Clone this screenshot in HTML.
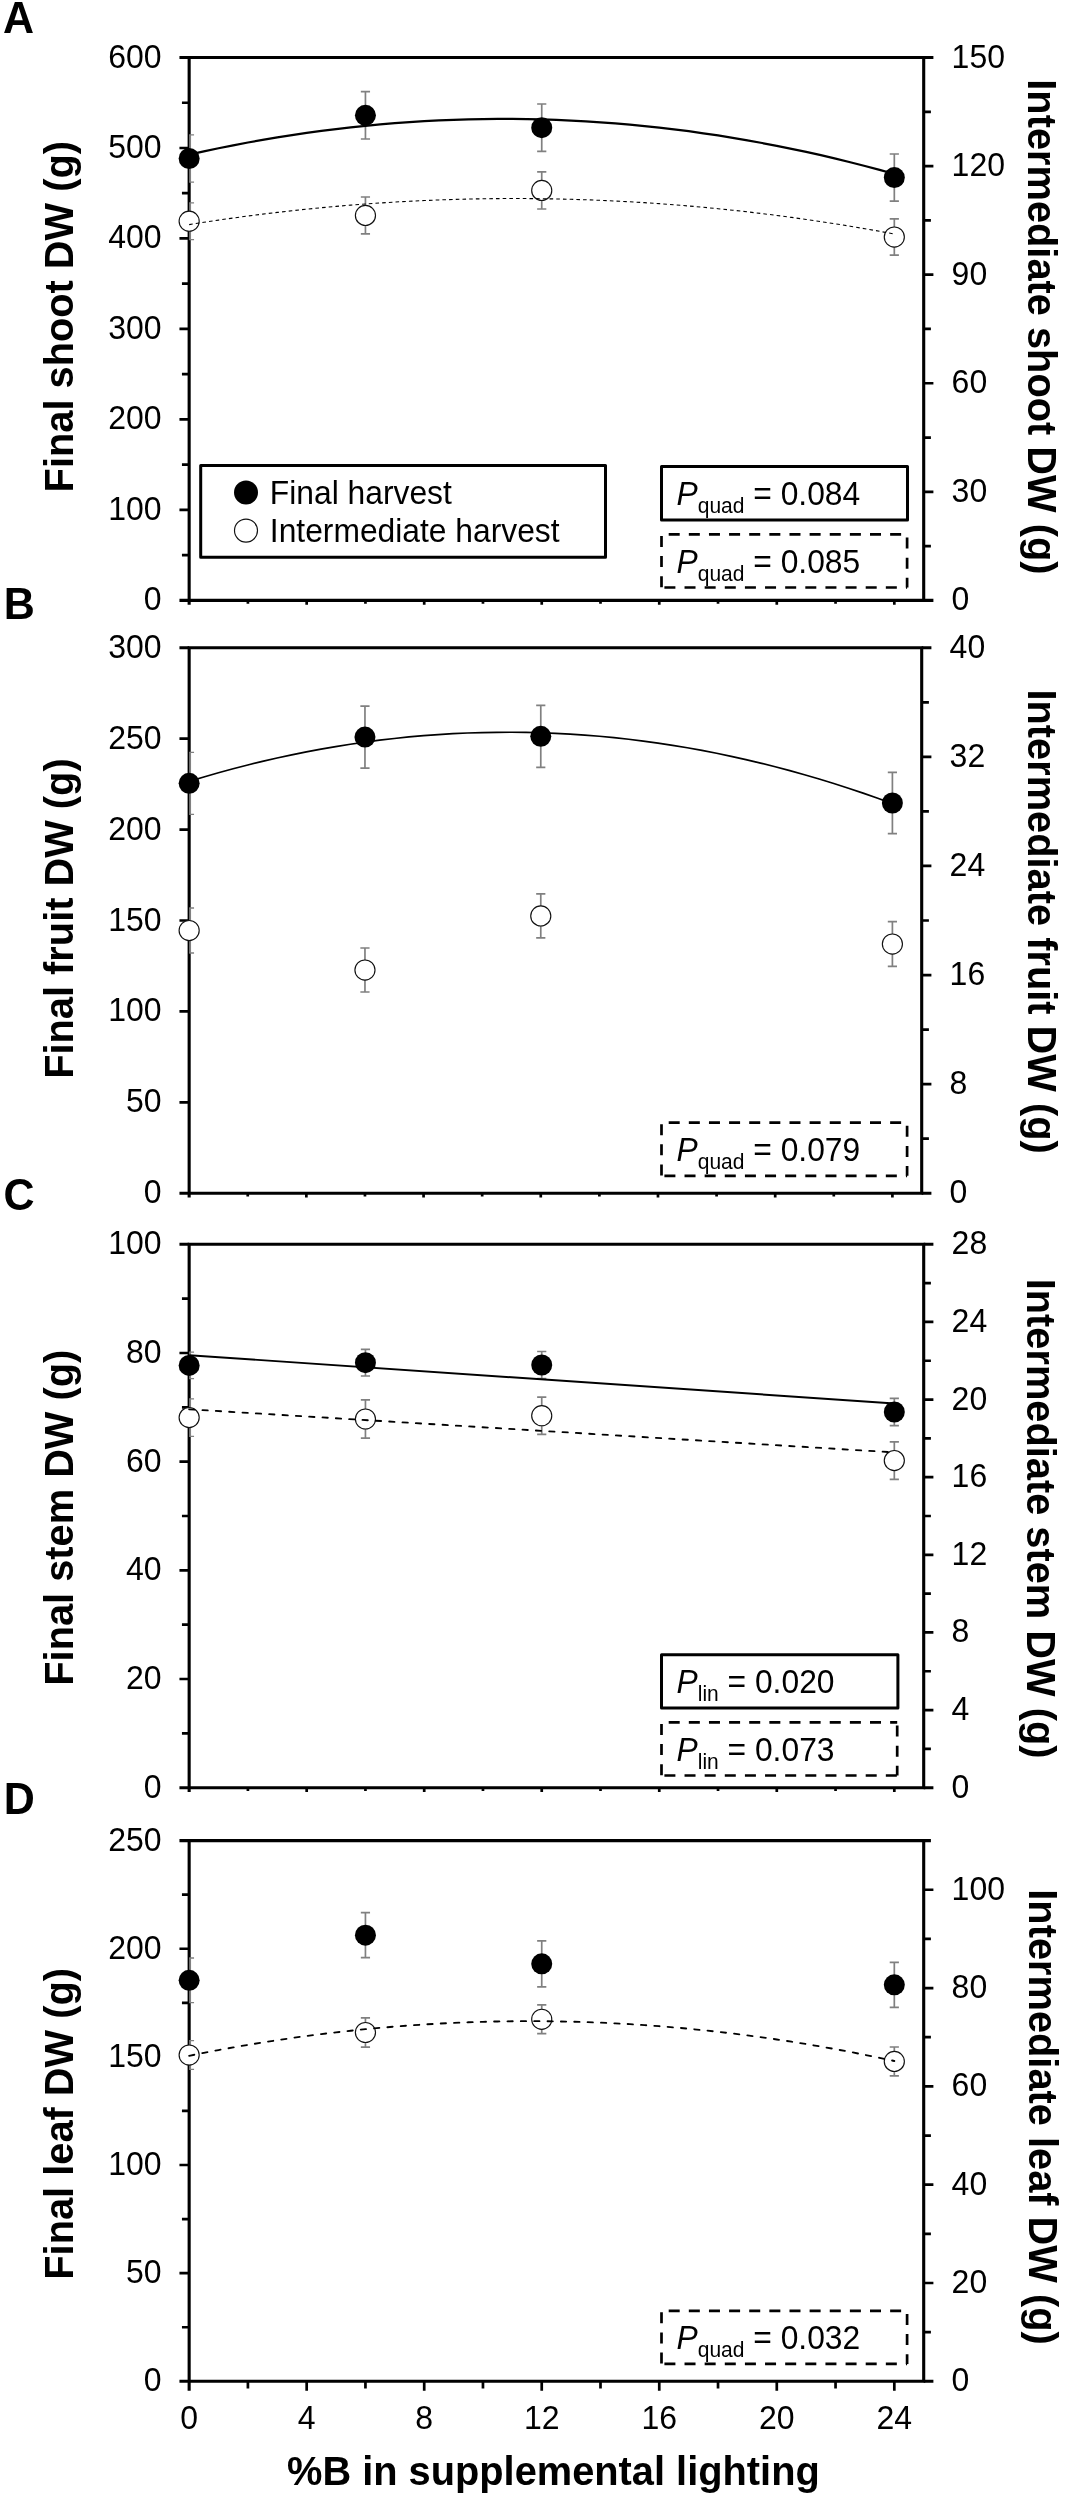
<!DOCTYPE html>
<html lang="en"><head><meta charset="utf-8"><title>Figure</title>
<style>html,body{margin:0;padding:0;background:#fff}svg{display:block}text{font-family:"Liberation Sans",sans-serif;fill:#000}.t{font-size:32.0px}.b{font-size:39.8px;font-weight:bold}.p{font-size:43.0px;font-weight:bold}.s{font-size:21px}.i{font-style:italic}</style></head><body>
<svg width="1065" height="2500" viewBox="0 0 1065 2500" style="will-change:transform;filter:grayscale(1)">
<rect width="1065" height="2500" fill="#fff"/>
<g>
<path d="M189.15,57.5 H923.7 M189.15,600.4 H923.7 M189.15,55.95 V604.8 M923.7,55.95 V601.95" stroke="#000" stroke-width="3.1" fill="none"/>
<path d="M181.95,555.16 H189.15 M179.45,509.92 H189.15 M181.95,464.67 H189.15 M179.45,419.43 H189.15 M181.95,374.19 H189.15 M179.45,328.95 H189.15 M181.95,283.71 H189.15 M179.45,238.47 H189.15 M181.95,193.22 H189.15 M179.45,147.98 H189.15 M181.95,102.74 H189.15 M923.7,546.11 H930.9 M923.7,491.82 H933.4 M923.7,437.53 H930.9 M923.7,383.24 H933.4 M923.7,328.95 H930.9 M923.7,274.66 H933.4 M923.7,220.37 H930.9 M923.7,166.08 H933.4 M923.7,111.79 H930.9 M247.91,600.4 V603.7 M306.68,600.4 V604.8 M365.44,600.4 V603.7 M424.21,600.4 V604.8 M482.97,600.4 V603.7 M541.73,600.4 V604.8 M600.5,600.4 V603.7 M659.26,600.4 V604.8 M718.03,600.4 V603.7 M776.79,600.4 V604.8 M835.55,600.4 V603.7 M894.32,600.4 V604.8" stroke="#000" stroke-width="2.7" fill="none"/>
<path d="M179.45,600.4 H189.15 M179.45,57.5 H189.15 M923.7,600.4 H933.4 M923.7,57.5 H933.4" stroke="#000" stroke-width="3.1" fill="none"/>
<path d="M190.1,134.8 V182.2" stroke="#808080" stroke-width="1.9" fill="none"/><path d="M189.15,134.8 H194.05 M189.15,182.2 H194.05" stroke="#808080" stroke-width="1.3" fill="none"/>
<path d="M365.44,91.6 V139 M360.84,91.6 H370.04 M360.84,139 H370.04" stroke="#808080" stroke-width="1.7" fill="none"/>
<path d="M541.73,104 V151.4 M537.13,104 H546.33 M537.13,151.4 H546.33" stroke="#808080" stroke-width="1.7" fill="none"/>
<path d="M894.32,154 V201.2 M889.72,154 H898.92 M889.72,201.2 H898.92" stroke="#808080" stroke-width="1.7" fill="none"/>
<path d="M190.1,202.8 V239.6" stroke="#808080" stroke-width="1.9" fill="none"/><path d="M189.15,202.8 H194.05 M189.15,239.6 H194.05" stroke="#808080" stroke-width="1.3" fill="none"/>
<path d="M365.44,197 V233.8 M360.84,197 H370.04 M360.84,233.8 H370.04" stroke="#808080" stroke-width="1.7" fill="none"/>
<path d="M541.73,171.8 V209 M537.13,171.8 H546.33 M537.13,209 H546.33" stroke="#808080" stroke-width="1.7" fill="none"/>
<path d="M894.32,218.8 V255.2 M889.72,218.8 H898.92 M889.72,255.2 H898.92" stroke="#808080" stroke-width="1.7" fill="none"/>
<circle cx="189.15" cy="158.5" r="10.5" fill="#000"/>
<circle cx="365.44" cy="115.3" r="10.5" fill="#000"/>
<circle cx="541.73" cy="127.7" r="10.5" fill="#000"/>
<circle cx="894.32" cy="177.6" r="10.5" fill="#000"/>
<circle cx="189.15" cy="221.2" r="10.05" fill="#fff" stroke="#111" stroke-width="1.15"/>
<circle cx="365.44" cy="215.4" r="10.05" fill="#fff" stroke="#111" stroke-width="1.15"/>
<circle cx="541.73" cy="190.4" r="10.05" fill="#fff" stroke="#111" stroke-width="1.15"/>
<circle cx="894.32" cy="237" r="10.05" fill="#fff" stroke="#111" stroke-width="1.15"/>
<path d="M189.15,154.6 L203.84,151.34 L218.53,148.24 L233.22,145.29 L247.91,142.5 L262.61,139.86 L277.3,137.38 L291.99,135.06 L306.68,132.89 L321.37,130.88 L336.06,129.02 L350.75,127.32 L365.44,125.78 L380.13,124.39 L394.82,123.15 L409.52,122.08 L424.21,121.16 L438.9,120.39 L453.59,119.78 L468.28,119.33 L482.97,119.03 L497.66,118.89 L512.35,118.9 L527.04,119.07 L541.73,119.4 L556.42,119.88 L571.12,120.52 L585.81,121.31 L600.5,122.26 L615.19,123.37 L629.88,124.63 L644.57,126.05 L659.26,127.62 L673.95,129.35 L688.64,131.24 L703.34,133.28 L718.03,135.48 L732.72,137.83 L747.41,140.34 L762.1,143 L776.79,145.82 L791.48,148.8 L806.17,151.93 L820.86,155.22 L835.55,158.66 L850.25,162.26 L864.94,166.02 L879.63,169.93 L894.32,174" stroke="#000" stroke-width="2.25" fill="none"/>
<path d="M189.15,224.6 L203.84,222.3 L218.53,220.1 L233.22,218.02 L247.91,216.03 L262.61,214.16 L277.3,212.39 L291.99,210.72 L306.68,209.17 L321.37,207.72 L336.06,206.37 L350.75,205.13 L365.44,204 L380.13,202.97 L394.82,202.05 L409.52,201.24 L424.21,200.53 L438.9,199.93 L453.59,199.44 L468.28,199.05 L482.97,198.77 L497.66,198.59 L512.35,198.52 L527.04,198.56 L541.73,198.7 L556.42,198.95 L571.12,199.3 L585.81,199.77 L600.5,200.33 L615.19,201.01 L629.88,201.79 L644.57,202.67 L659.26,203.67 L673.95,204.77 L688.64,205.97 L703.34,207.28 L718.03,208.7 L732.72,210.22 L747.41,211.85 L762.1,213.59 L776.79,215.43 L791.48,217.38 L806.17,219.44 L820.86,221.6 L835.55,223.87 L850.25,226.24 L864.94,228.72 L879.63,231.31 L894.32,234" stroke="#000" stroke-width="1.1" stroke-dasharray="3.6 3.1" fill="none"/>
<text class="t" transform="translate(161.6,610.4) scale(1,1.05)" text-anchor="end">0</text>
<text class="t" transform="translate(161.6,519.92) scale(1,1.05)" text-anchor="end">100</text>
<text class="t" transform="translate(161.6,429.43) scale(1,1.05)" text-anchor="end">200</text>
<text class="t" transform="translate(161.6,338.95) scale(1,1.05)" text-anchor="end">300</text>
<text class="t" transform="translate(161.6,248.47) scale(1,1.05)" text-anchor="end">400</text>
<text class="t" transform="translate(161.6,157.98) scale(1,1.05)" text-anchor="end">500</text>
<text class="t" transform="translate(161.6,67.5) scale(1,1.05)" text-anchor="end">600</text>
<text class="t" transform="translate(951.6,610.4) scale(1,1.05)">0</text>
<text class="t" transform="translate(951.6,501.82) scale(1,1.05)">30</text>
<text class="t" transform="translate(951.6,393.24) scale(1,1.05)">60</text>
<text class="t" transform="translate(951.6,284.66) scale(1,1.05)">90</text>
<text class="t" transform="translate(951.6,176.08) scale(1,1.05)">120</text>
<text class="t" transform="translate(951.6,67.5) scale(1,1.05)">150</text>
<text class="b" transform="translate(73.1,492.4) rotate(-90) scale(1,1.037)">Final shoot DW (g)</text>
<text class="b" transform="translate(1027.8,79.3) rotate(90) scale(1,1.037)">Intermediate shoot DW (g)</text>
<text class="p" transform="translate(2.9,33) scale(1,1.014)">A</text>
</g>
<g>
<path d="M189.15,647.8 H921.7 M189.15,1193.2 H921.7 M189.15,646.25 V1197.6 M921.7,646.25 V1194.75" stroke="#000" stroke-width="3.1" fill="none"/>
<path d="M179.45,1102.3 H189.15 M179.45,1011.4 H189.15 M179.45,920.5 H189.15 M179.45,829.6 H189.15 M179.45,738.7 H189.15 M921.7,1138.66 H928.9 M921.7,1084.12 H931.4 M921.7,1029.58 H928.9 M921.7,975.04 H931.4 M921.7,920.5 H928.9 M921.7,865.96 H931.4 M921.7,811.42 H928.9 M921.7,756.88 H931.4 M921.7,702.34 H928.9 M247.75,1193.2 V1196.5 M306.36,1193.2 V1197.6 M364.96,1193.2 V1196.5 M423.57,1193.2 V1197.6 M482.17,1193.2 V1196.5 M540.77,1193.2 V1197.6 M599.38,1193.2 V1196.5 M657.98,1193.2 V1197.6 M716.59,1193.2 V1196.5 M775.19,1193.2 V1197.6 M833.79,1193.2 V1196.5 M892.4,1193.2 V1197.6" stroke="#000" stroke-width="2.7" fill="none"/>
<path d="M179.45,1193.2 H189.15 M179.45,647.8 H189.15 M921.7,1193.2 H931.4 M921.7,647.8 H931.4" stroke="#000" stroke-width="3.1" fill="none"/>
<path d="M190.1,752.3 V814.3" stroke="#808080" stroke-width="1.9" fill="none"/><path d="M189.15,752.3 H194.05 M189.15,814.3 H194.05" stroke="#808080" stroke-width="1.3" fill="none"/>
<path d="M364.96,706.1 V768.1 M360.36,706.1 H369.56 M360.36,768.1 H369.56" stroke="#808080" stroke-width="1.7" fill="none"/>
<path d="M540.77,705.3 V767.3 M536.17,705.3 H545.37 M536.17,767.3 H545.37" stroke="#808080" stroke-width="1.7" fill="none"/>
<path d="M892.4,772.3 V833.7 M887.8,772.3 H897 M887.8,833.7 H897" stroke="#808080" stroke-width="1.7" fill="none"/>
<path d="M190.1,908 V953" stroke="#808080" stroke-width="1.9" fill="none"/><path d="M189.15,908 H194.05 M189.15,953 H194.05" stroke="#808080" stroke-width="1.3" fill="none"/>
<path d="M364.96,948 V992 M360.36,948 H369.56 M360.36,992 H369.56" stroke="#808080" stroke-width="1.7" fill="none"/>
<path d="M540.77,893.9 V937.9 M536.17,893.9 H545.37 M536.17,937.9 H545.37" stroke="#808080" stroke-width="1.7" fill="none"/>
<path d="M892.4,921.7 V966.3 M887.8,921.7 H897 M887.8,966.3 H897" stroke="#808080" stroke-width="1.7" fill="none"/>
<circle cx="189.15" cy="783.3" r="10.5" fill="#000"/>
<circle cx="364.96" cy="737.1" r="10.5" fill="#000"/>
<circle cx="540.77" cy="736.3" r="10.5" fill="#000"/>
<circle cx="892.4" cy="803" r="10.5" fill="#000"/>
<circle cx="189.15" cy="930.5" r="10.05" fill="#fff" stroke="#111" stroke-width="1.15"/>
<circle cx="364.96" cy="970" r="10.05" fill="#fff" stroke="#111" stroke-width="1.15"/>
<circle cx="540.77" cy="915.9" r="10.05" fill="#fff" stroke="#111" stroke-width="1.15"/>
<circle cx="892.4" cy="944" r="10.05" fill="#fff" stroke="#111" stroke-width="1.15"/>
<path d="M189.15,781.36 L203.8,776.95 L218.45,772.74 L233.1,768.75 L247.75,764.96 L262.41,761.37 L277.06,758 L291.71,754.83 L306.36,751.87 L321.01,749.12 L335.66,746.58 L350.31,744.24 L364.96,742.11 L379.61,740.19 L394.26,738.47 L408.92,736.97 L423.57,735.67 L438.22,734.57 L452.87,733.69 L467.52,733.01 L482.17,732.54 L496.82,732.28 L511.47,732.23 L526.12,732.38 L540.77,732.74 L555.42,733.31 L570.08,734.08 L584.73,735.07 L599.38,736.26 L614.03,737.65 L628.68,739.26 L643.33,741.07 L657.98,743.09 L672.63,745.32 L687.28,747.76 L701.94,750.4 L716.59,753.25 L731.24,756.31 L745.89,759.57 L760.54,763.05 L775.19,766.73 L789.84,770.61 L804.49,774.71 L819.14,779.01 L833.79,783.52 L848.44,788.24 L863.1,793.17 L877.75,798.3 L892.4,803.64" stroke="#000" stroke-width="1.7" fill="none"/>
<text class="t" transform="translate(161.6,1203.2) scale(1,1.05)" text-anchor="end">0</text>
<text class="t" transform="translate(161.6,1112.3) scale(1,1.05)" text-anchor="end">50</text>
<text class="t" transform="translate(161.6,1021.4) scale(1,1.05)" text-anchor="end">100</text>
<text class="t" transform="translate(161.6,930.5) scale(1,1.05)" text-anchor="end">150</text>
<text class="t" transform="translate(161.6,839.6) scale(1,1.05)" text-anchor="end">200</text>
<text class="t" transform="translate(161.6,748.7) scale(1,1.05)" text-anchor="end">250</text>
<text class="t" transform="translate(161.6,657.8) scale(1,1.05)" text-anchor="end">300</text>
<text class="t" transform="translate(949.6,1203.2) scale(1,1.05)">0</text>
<text class="t" transform="translate(949.6,1094.12) scale(1,1.05)">8</text>
<text class="t" transform="translate(949.6,985.04) scale(1,1.05)">16</text>
<text class="t" transform="translate(949.6,875.96) scale(1,1.05)">24</text>
<text class="t" transform="translate(949.6,766.88) scale(1,1.05)">32</text>
<text class="t" transform="translate(949.6,657.8) scale(1,1.05)">40</text>
<text class="b" transform="translate(73.1,1078.8) rotate(-90) scale(1,1.037)">Final fruit DW (g)</text>
<text class="b" transform="translate(1027.8,689.5) rotate(90) scale(1,1.037)">Intermediate fruit DW (g)</text>
<text class="p" transform="translate(3.7,618.8) scale(1,1.014)">B</text>
</g>
<g>
<path d="M189.15,1244.3 H923.7 M189.15,1787.7 H923.7 M189.15,1242.75 V1792.1 M923.7,1242.75 V1789.25" stroke="#000" stroke-width="3.1" fill="none"/>
<path d="M181.95,1733.36 H189.15 M179.45,1679.02 H189.15 M181.95,1624.68 H189.15 M179.45,1570.34 H189.15 M181.95,1516 H189.15 M179.45,1461.66 H189.15 M181.95,1407.32 H189.15 M179.45,1352.98 H189.15 M181.95,1298.64 H189.15 M923.7,1748.89 H930.9 M923.7,1710.07 H933.4 M923.7,1671.26 H930.9 M923.7,1632.44 H933.4 M923.7,1593.63 H930.9 M923.7,1554.81 H933.4 M923.7,1516 H930.9 M923.7,1477.19 H933.4 M923.7,1438.37 H930.9 M923.7,1399.56 H933.4 M923.7,1360.74 H930.9 M923.7,1321.93 H933.4 M923.7,1283.11 H930.9 M247.91,1787.7 V1791 M306.68,1787.7 V1792.1 M365.44,1787.7 V1791 M424.21,1787.7 V1792.1 M482.97,1787.7 V1791 M541.73,1787.7 V1792.1 M600.5,1787.7 V1791 M659.26,1787.7 V1792.1 M718.03,1787.7 V1791 M776.79,1787.7 V1792.1 M835.55,1787.7 V1791 M894.32,1787.7 V1792.1" stroke="#000" stroke-width="2.7" fill="none"/>
<path d="M179.45,1787.7 H189.15 M179.45,1244.3 H189.15 M923.7,1787.7 H933.4 M923.7,1244.3 H933.4" stroke="#000" stroke-width="3.1" fill="none"/>
<path d="M190.1,1352.2 V1378.6" stroke="#808080" stroke-width="1.9" fill="none"/><path d="M189.15,1352.2 H194.05 M189.15,1378.6 H194.05" stroke="#808080" stroke-width="1.3" fill="none"/>
<path d="M365.44,1349.4 V1376 M360.84,1349.4 H370.04 M360.84,1376 H370.04" stroke="#808080" stroke-width="1.7" fill="none"/>
<path d="M541.73,1351.5 V1378.5 M537.13,1351.5 H546.33 M537.13,1378.5 H546.33" stroke="#808080" stroke-width="1.7" fill="none"/>
<path d="M894.32,1398.3 V1425.7 M889.72,1398.3 H898.92 M889.72,1425.7 H898.92" stroke="#808080" stroke-width="1.7" fill="none"/>
<path d="M190.1,1398.8 V1436.4" stroke="#808080" stroke-width="1.9" fill="none"/><path d="M189.15,1398.8 H194.05 M189.15,1436.4 H194.05" stroke="#808080" stroke-width="1.3" fill="none"/>
<path d="M365.44,1399.9 V1438.1 M360.84,1399.9 H370.04 M360.84,1438.1 H370.04" stroke="#808080" stroke-width="1.7" fill="none"/>
<path d="M541.73,1397.1 V1434.3 M537.13,1397.1 H546.33 M537.13,1434.3 H546.33" stroke="#808080" stroke-width="1.7" fill="none"/>
<path d="M894.32,1441.9 V1479.3 M889.72,1441.9 H898.92 M889.72,1479.3 H898.92" stroke="#808080" stroke-width="1.7" fill="none"/>
<circle cx="189.15" cy="1365.4" r="10.5" fill="#000"/>
<circle cx="365.44" cy="1362.7" r="10.5" fill="#000"/>
<circle cx="541.73" cy="1365" r="10.5" fill="#000"/>
<circle cx="894.32" cy="1412" r="10.5" fill="#000"/>
<circle cx="189.15" cy="1417.6" r="10.05" fill="#fff" stroke="#111" stroke-width="1.15"/>
<circle cx="365.44" cy="1419" r="10.05" fill="#fff" stroke="#111" stroke-width="1.15"/>
<circle cx="541.73" cy="1415.7" r="10.05" fill="#fff" stroke="#111" stroke-width="1.15"/>
<circle cx="894.32" cy="1460.6" r="10.05" fill="#fff" stroke="#111" stroke-width="1.15"/>
<path d="M189.15,1355.2 L894.32,1403.5" stroke="#000" stroke-width="1.9" fill="none"/>
<path d="M189.15,1409.3 L894.32,1452.4" stroke="#000" stroke-width="1.85" stroke-linecap="round" stroke-dasharray="5.3 8.06" fill="none"/>
<text class="t" transform="translate(161.6,1797.7) scale(1,1.05)" text-anchor="end">0</text>
<text class="t" transform="translate(161.6,1689.02) scale(1,1.05)" text-anchor="end">20</text>
<text class="t" transform="translate(161.6,1580.34) scale(1,1.05)" text-anchor="end">40</text>
<text class="t" transform="translate(161.6,1471.66) scale(1,1.05)" text-anchor="end">60</text>
<text class="t" transform="translate(161.6,1362.98) scale(1,1.05)" text-anchor="end">80</text>
<text class="t" transform="translate(161.6,1254.3) scale(1,1.05)" text-anchor="end">100</text>
<text class="t" transform="translate(951.6,1797.7) scale(1,1.05)">0</text>
<text class="t" transform="translate(951.6,1720.07) scale(1,1.05)">4</text>
<text class="t" transform="translate(951.6,1642.44) scale(1,1.05)">8</text>
<text class="t" transform="translate(951.6,1564.81) scale(1,1.05)">12</text>
<text class="t" transform="translate(951.6,1487.19) scale(1,1.05)">16</text>
<text class="t" transform="translate(951.6,1409.56) scale(1,1.05)">20</text>
<text class="t" transform="translate(951.6,1331.93) scale(1,1.05)">24</text>
<text class="t" transform="translate(951.6,1254.3) scale(1,1.05)">28</text>
<text class="b" transform="translate(73.4,1685.7) rotate(-90) scale(1,1.037)">Final stem DW (g)</text>
<text class="b" transform="translate(1026.6,1278.7) rotate(90) scale(1,1.037)">Intermediate stem DW (g)</text>
<text class="p" transform="translate(3.5,1210.2) scale(1,1.014)">C</text>
</g>
<g>
<path d="M189.15,1840.6 H923.7 M189.15,2381.3 H923.7 M189.15,1839.05 V2390.8 M923.7,1839.05 V2382.85" stroke="#000" stroke-width="3.1" fill="none"/>
<path d="M181.95,2327.23 H189.15 M179.45,2273.16 H189.15 M181.95,2219.09 H189.15 M179.45,2165.02 H189.15 M181.95,2110.95 H189.15 M179.45,2056.88 H189.15 M181.95,2002.81 H189.15 M179.45,1948.74 H189.15 M181.95,1894.67 H189.15 M923.7,2332.15 H930.9 M923.7,2282.99 H933.4 M923.7,2233.84 H930.9 M923.7,2184.68 H933.4 M923.7,2135.53 H930.9 M923.7,2086.37 H933.4 M923.7,2037.22 H930.9 M923.7,1988.06 H933.4 M923.7,1938.91 H930.9 M923.7,1889.75 H933.4 M247.91,2381.3 V2388.5 M306.68,2381.3 V2390.8 M365.44,2381.3 V2388.5 M424.21,2381.3 V2390.8 M482.97,2381.3 V2388.5 M541.73,2381.3 V2390.8 M600.5,2381.3 V2388.5 M659.26,2381.3 V2390.8 M718.03,2381.3 V2388.5 M776.79,2381.3 V2390.8 M835.55,2381.3 V2388.5 M894.32,2381.3 V2390.8" stroke="#000" stroke-width="2.7" fill="none"/>
<path d="M179.45,2381.3 H189.15 M179.45,1840.6 H189.15 M923.7,2381.3 H933.4 M923.7,1840.6 H930.9" stroke="#000" stroke-width="3.1" fill="none"/>
<path d="M190.1,1958 V2002.6" stroke="#808080" stroke-width="1.9" fill="none"/><path d="M189.15,1958 H194.05 M189.15,2002.6 H194.05" stroke="#808080" stroke-width="1.3" fill="none"/>
<path d="M365.44,1912.7 V1957.7 M360.84,1912.7 H370.04 M360.84,1957.7 H370.04" stroke="#808080" stroke-width="1.7" fill="none"/>
<path d="M541.73,1940.8 V1986.8 M537.13,1940.8 H546.33 M537.13,1986.8 H546.33" stroke="#808080" stroke-width="1.7" fill="none"/>
<path d="M894.32,1962.3 V2007.3 M889.72,1962.3 H898.92 M889.72,2007.3 H898.92" stroke="#808080" stroke-width="1.7" fill="none"/>
<path d="M190.1,2040.6 V2069.4" stroke="#808080" stroke-width="1.9" fill="none"/><path d="M189.15,2040.6 H194.05 M189.15,2069.4 H194.05" stroke="#808080" stroke-width="1.3" fill="none"/>
<path d="M365.44,2017.9 V2047.1 M360.84,2017.9 H370.04 M360.84,2047.1 H370.04" stroke="#808080" stroke-width="1.7" fill="none"/>
<path d="M541.73,2004.9 V2033.7 M537.13,2004.9 H546.33 M537.13,2033.7 H546.33" stroke="#808080" stroke-width="1.7" fill="none"/>
<path d="M894.32,2047 V2075.8 M889.72,2047 H898.92 M889.72,2075.8 H898.92" stroke="#808080" stroke-width="1.7" fill="none"/>
<circle cx="189.15" cy="1980.3" r="10.5" fill="#000"/>
<circle cx="365.44" cy="1935.2" r="10.5" fill="#000"/>
<circle cx="541.73" cy="1963.8" r="10.5" fill="#000"/>
<circle cx="894.32" cy="1984.8" r="10.5" fill="#000"/>
<circle cx="189.15" cy="2055" r="10.05" fill="#fff" stroke="#111" stroke-width="1.15"/>
<circle cx="365.44" cy="2032.5" r="10.05" fill="#fff" stroke="#111" stroke-width="1.15"/>
<circle cx="541.73" cy="2019.3" r="10.05" fill="#fff" stroke="#111" stroke-width="1.15"/>
<circle cx="894.32" cy="2061.4" r="10.05" fill="#fff" stroke="#111" stroke-width="1.15"/>
<path d="M189.15,2055.8 L203.84,2052.87 L218.53,2050.07 L233.22,2047.41 L247.91,2044.87 L262.61,2042.46 L277.3,2040.18 L291.99,2038.02 L306.68,2036 L321.37,2034.11 L336.06,2032.34 L350.75,2030.71 L365.44,2029.2 L380.13,2027.82 L394.82,2026.58 L409.52,2025.46 L424.21,2024.47 L438.9,2023.61 L453.59,2022.88 L468.28,2022.27 L482.97,2021.8 L497.66,2021.46 L512.35,2021.24 L527.04,2021.16 L541.73,2021.2 L556.42,2021.37 L571.12,2021.67 L585.81,2022.11 L600.5,2022.67 L615.19,2023.36 L629.88,2024.17 L644.57,2025.12 L659.26,2026.2 L673.95,2027.41 L688.64,2028.74 L703.34,2030.21 L718.03,2031.8 L732.72,2033.52 L747.41,2035.38 L762.1,2037.36 L776.79,2039.47 L791.48,2041.71 L806.17,2044.08 L820.86,2046.57 L835.55,2049.2 L850.25,2051.96 L864.94,2054.84 L879.63,2057.86 L894.32,2061" stroke="#000" stroke-width="1.85" stroke-linecap="round" stroke-dasharray="5.3 8.06" fill="none"/>
<text class="t" transform="translate(161.6,2391.3) scale(1,1.05)" text-anchor="end">0</text>
<text class="t" transform="translate(161.6,2283.16) scale(1,1.05)" text-anchor="end">50</text>
<text class="t" transform="translate(161.6,2175.02) scale(1,1.05)" text-anchor="end">100</text>
<text class="t" transform="translate(161.6,2066.88) scale(1,1.05)" text-anchor="end">150</text>
<text class="t" transform="translate(161.6,1958.74) scale(1,1.05)" text-anchor="end">200</text>
<text class="t" transform="translate(161.6,1850.6) scale(1,1.05)" text-anchor="end">250</text>
<text class="t" transform="translate(951.6,2391.3) scale(1,1.05)">0</text>
<text class="t" transform="translate(951.6,2292.99) scale(1,1.05)">20</text>
<text class="t" transform="translate(951.6,2194.68) scale(1,1.05)">40</text>
<text class="t" transform="translate(951.6,2096.37) scale(1,1.05)">60</text>
<text class="t" transform="translate(951.6,1998.06) scale(1,1.05)">80</text>
<text class="t" transform="translate(951.6,1899.75) scale(1,1.05)">100</text>
<text class="b" transform="translate(73,2279.7) rotate(-90) scale(1,1.037)">Final leaf DW (g)</text>
<text class="b" transform="translate(1028.9,1889.3) rotate(90) scale(1,1.037)">Intermediate leaf DW (g)</text>
<text class="p" transform="translate(3.7,1814.4) scale(1,1.014)">D</text>
</g>
<text class="t" transform="translate(189.15,2428.9) scale(1,1.05)" text-anchor="middle">0</text>
<text class="t" transform="translate(306.68,2428.9) scale(1,1.05)" text-anchor="middle">4</text>
<text class="t" transform="translate(424.21,2428.9) scale(1,1.05)" text-anchor="middle">8</text>
<text class="t" transform="translate(541.73,2428.9) scale(1,1.05)" text-anchor="middle">12</text>
<text class="t" transform="translate(659.26,2428.9) scale(1,1.05)" text-anchor="middle">16</text>
<text class="t" transform="translate(776.79,2428.9) scale(1,1.05)" text-anchor="middle">20</text>
<text class="t" transform="translate(894.32,2428.9) scale(1,1.05)" text-anchor="middle">24</text>
<text class="b" transform="translate(287,2485.4) scale(1,1.037)">%B in supplemental lighting</text>
<rect x="200.7" y="465.4" width="404.8" height="91.8" fill="#fff" stroke="#000" stroke-width="3" stroke-linejoin="round"/>
<circle cx="246" cy="492.5" r="12" fill="#000"/>
<circle cx="246" cy="530.6" r="11.5" fill="#fff" stroke="#111" stroke-width="1.15"/>
<text class="t" transform="translate(269.8,503.8) scale(1,1.05)" style="font-size:31.8px">Final harvest</text>
<text class="t" transform="translate(269.8,542.1) scale(1,1.05)" style="font-size:31.8px">Intermediate harvest</text>
<rect x="661.5" y="466.6" width="246" height="53.4" fill="#fff" stroke="#000" stroke-width="3" stroke-linejoin="round"/>
<text class="t" transform="translate(676.5,504.9) scale(1,1.05)" style="font-size:31.8px"><tspan class="i">P</tspan><tspan class="s" dy="7.7">quad</tspan><tspan dy="-7.7"> = 0.084</tspan></text>
<rect x="661.5" y="534.4" width="245.6" height="53.1" fill="#fff"/>
<path d="M661.5,534.4 H907.1" stroke="#000" stroke-width="2.7" stroke-dasharray="11 9.13" fill="none" stroke-dashoffset="-7.2"/>
<path d="M907.1,534.4 V587.5" stroke="#000" stroke-width="2.7" stroke-dasharray="11 9.13" fill="none" stroke-dashoffset="-3.1"/>
<path d="M661.5,587.5 H907.1" stroke="#000" stroke-width="2.7" stroke-dasharray="11 9.13" fill="none" stroke-dashoffset="-2.9"/>
<path d="M661.5,534.4 V587.5" stroke="#000" stroke-width="2.7" stroke-dasharray="11 9.13" fill="none" stroke-dashoffset="-1.5"/>
<text class="t" transform="translate(676.5,572.7) scale(1,1.05)" style="font-size:31.8px"><tspan class="i">P</tspan><tspan class="s" dy="7.7">quad</tspan><tspan dy="-7.7"> = 0.085</tspan></text>
<rect x="661.5" y="1122.7" width="245.6" height="53.1" fill="#fff"/>
<path d="M661.5,1122.7 H907.1" stroke="#000" stroke-width="2.7" stroke-dasharray="11 9.13" fill="none" stroke-dashoffset="-7.2"/>
<path d="M907.1,1122.7 V1175.8" stroke="#000" stroke-width="2.7" stroke-dasharray="11 9.13" fill="none" stroke-dashoffset="-3.1"/>
<path d="M661.5,1175.8 H907.1" stroke="#000" stroke-width="2.7" stroke-dasharray="11 9.13" fill="none" stroke-dashoffset="-2.9"/>
<path d="M661.5,1122.7 V1175.8" stroke="#000" stroke-width="2.7" stroke-dasharray="11 9.13" fill="none" stroke-dashoffset="-1.5"/>
<text class="t" transform="translate(676.5,1161) scale(1,1.05)" style="font-size:31.8px"><tspan class="i">P</tspan><tspan class="s" dy="7.7">quad</tspan><tspan dy="-7.7"> = 0.079</tspan></text>
<rect x="661.5" y="1654.7" width="236.4" height="53.2" fill="#fff" stroke="#000" stroke-width="3" stroke-linejoin="round"/>
<text class="t" transform="translate(676.5,1693) scale(1,1.05)" style="font-size:31.8px"><tspan class="i">P</tspan><tspan class="s" dy="7.7">lin</tspan><tspan dy="-7.7"> = 0.020</tspan></text>
<rect x="661.5" y="1722.4" width="235.7" height="53.1" fill="#fff"/>
<path d="M661.5,1722.4 H897.2" stroke="#000" stroke-width="2.7" stroke-dasharray="11 9.13" fill="none" stroke-dashoffset="-7.2"/>
<path d="M897.2,1722.4 V1775.5" stroke="#000" stroke-width="2.7" stroke-dasharray="11 9.13" fill="none" stroke-dashoffset="-3.1"/>
<path d="M661.5,1775.5 H897.2" stroke="#000" stroke-width="2.7" stroke-dasharray="11 9.13" fill="none" stroke-dashoffset="-2.9"/>
<path d="M661.5,1722.4 V1775.5" stroke="#000" stroke-width="2.7" stroke-dasharray="11 9.13" fill="none" stroke-dashoffset="-1.5"/>
<text class="t" transform="translate(676.5,1760.7) scale(1,1.05)" style="font-size:31.8px"><tspan class="i">P</tspan><tspan class="s" dy="7.7">lin</tspan><tspan dy="-7.7"> = 0.073</tspan></text>
<rect x="661.5" y="2310.8" width="245.6" height="53.1" fill="#fff"/>
<path d="M661.5,2310.8 H907.1" stroke="#000" stroke-width="2.7" stroke-dasharray="11 9.13" fill="none" stroke-dashoffset="-7.2"/>
<path d="M907.1,2310.8 V2363.9" stroke="#000" stroke-width="2.7" stroke-dasharray="11 9.13" fill="none" stroke-dashoffset="-3.1"/>
<path d="M661.5,2363.9 H907.1" stroke="#000" stroke-width="2.7" stroke-dasharray="11 9.13" fill="none" stroke-dashoffset="-2.9"/>
<path d="M661.5,2310.8 V2363.9" stroke="#000" stroke-width="2.7" stroke-dasharray="11 9.13" fill="none" stroke-dashoffset="-1.5"/>
<text class="t" transform="translate(676.5,2349.1) scale(1,1.05)" style="font-size:31.8px"><tspan class="i">P</tspan><tspan class="s" dy="7.7">quad</tspan><tspan dy="-7.7"> = 0.032</tspan></text>
</svg></body></html>
